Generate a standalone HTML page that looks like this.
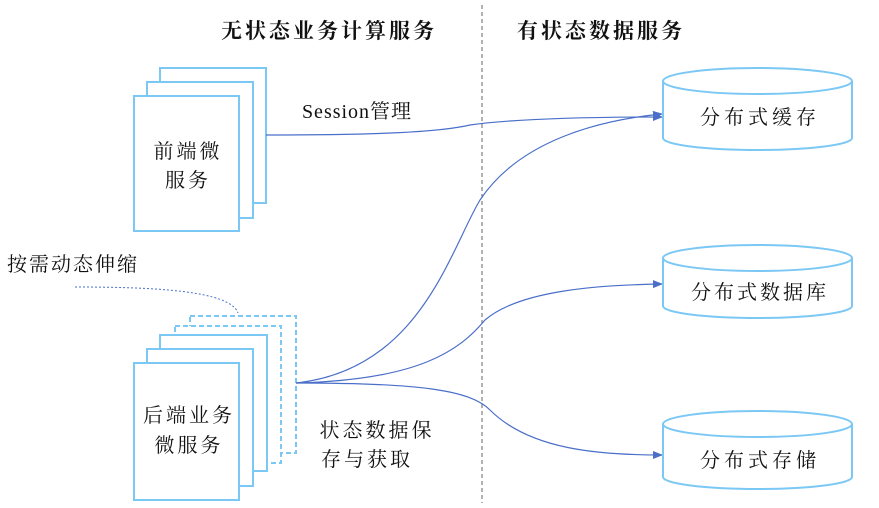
<!DOCTYPE html>
<html><head><meta charset="utf-8"><style>
body{margin:0;background:#fff;width:879px;height:503px;overflow:hidden}
svg text{font-family:"Liberation Serif","Noto Serif CJK SC","Noto Sans CJK SC",serif;fill:#111}
</style></head><body>
<svg width="879" height="503" viewBox="0 0 879 503" xmlns="http://www.w3.org/2000/svg">
<defs><marker id="a" markerWidth="10" markerHeight="8" refX="9" refY="4" orient="auto" markerUnits="userSpaceOnUse"><path d="M0,0 L10,4 L0,8 z" fill="#4a6fc9"/></marker></defs>
<line x1="482" y1="5" x2="482" y2="503" stroke="#666" stroke-dasharray="4,3" stroke-width="1"/>
<text x="329" y="38" font-size="21" font-weight="bold" text-anchor="middle" letter-spacing="3">无状态业务计算服务</text>
<text x="601" y="38" font-size="21" font-weight="bold" text-anchor="middle" letter-spacing="3">有状态数据服务</text>
<g fill="#fff" stroke="#7cc8f5" stroke-width="2">
<rect x="160" y="68" width="106" height="135"/>
<rect x="147" y="82" width="106" height="136"/>
<rect x="134" y="96" width="105" height="135"/>
</g>
<text x="188" y="158" font-size="20" text-anchor="middle" letter-spacing="3">前端微</text>
<text x="188" y="187" font-size="20" text-anchor="middle" letter-spacing="3">服务</text>
<text x="357" y="118" font-size="20" text-anchor="middle" letter-spacing="1">Session管理</text>
<text x="73" y="271" font-size="20" text-anchor="middle" letter-spacing="2">按需动态伸缩</text>
<path d="M75,287 C150,287 230,290 238,313" fill="none" stroke="#4a6fc9" stroke-dasharray="2,2" stroke-width="1"/>
<g fill="#fff" stroke="#7cc8f5" stroke-width="2">
<rect x="190" y="316" width="106" height="137" stroke-dasharray="5,3"/>
<rect x="175" y="326" width="106" height="137" stroke-dasharray="5,3"/>
<rect x="160" y="335" width="107" height="136"/>
<rect x="147" y="349" width="106" height="137"/>
<rect x="134" y="363" width="105" height="137"/>
</g>
<text x="189" y="422" font-size="20" text-anchor="middle" letter-spacing="3">后端业务</text>
<text x="189" y="452" font-size="20" text-anchor="middle" letter-spacing="3">微服务</text>
<text x="377" y="437" font-size="20" text-anchor="middle" letter-spacing="3">状态数据保</text>
<text x="367" y="466" font-size="20" text-anchor="middle" letter-spacing="3">存与获取</text>
<g fill="none" stroke="#4a6fc9" stroke-width="1.2">
<path d="M266,135 C380,135 440,132 470,125 C520,118 600,117 662,117" marker-end="url(#a)"/>
<path d="M296,383 C420,370 450,250 480,200 C520,140 600,120 662,114" marker-end="url(#a)"/>
<path d="M296,383 C420,380 460,350 485,320 C520,290 600,285 662,284" marker-end="url(#a)"/>
<path d="M296,383 C420,383 470,390 490,410 C530,450 600,455 662,455" marker-end="url(#a)"/>
</g>
<g fill="#fff" stroke="#7cc8f5" stroke-width="2">
<path d="M663,81 L663,138 A94.5,12 0 0 0 852,138 L852,81"/>
<ellipse cx="757.5" cy="81" rx="94.5" ry="13"/>
<path d="M663,258 L663,306 A94.5,12 0 0 0 852,306 L852,258"/>
<ellipse cx="757.5" cy="258" rx="94.5" ry="13"/>
<path d="M663,424 L663,477 A94.5,12 0 0 0 852,477 L852,424"/>
<ellipse cx="757.5" cy="424" rx="94.5" ry="13"/>
</g>
<text x="760" y="124" font-size="20" text-anchor="middle" letter-spacing="4">分布式缓存</text>
<text x="760" y="299" font-size="20" text-anchor="middle" letter-spacing="3">分布式数据库</text>
<text x="760" y="467" font-size="20" text-anchor="middle" letter-spacing="4">分布式存储</text>
</svg>
</body></html>
